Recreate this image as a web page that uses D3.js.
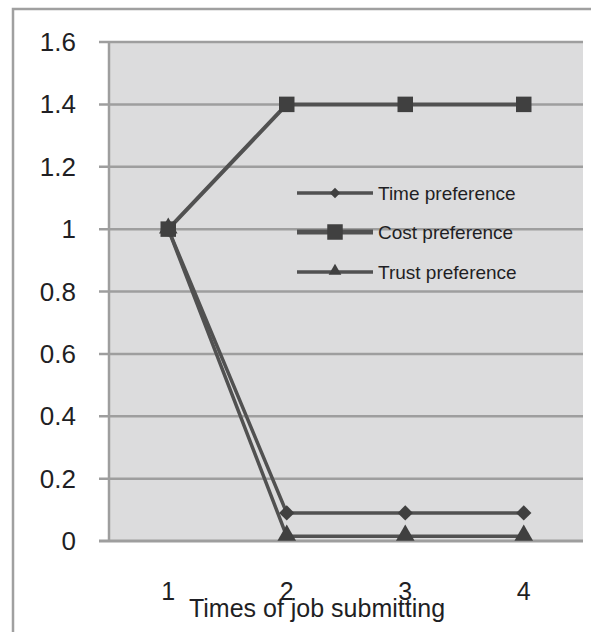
<!DOCTYPE html>
<html>
<head>
<meta charset="utf-8">
<script src="https://cdn.jsdelivr.net/npm/d3@7"></script>
<style>
  html, body { margin: 0; padding: 0; background: #fff; }
  svg { display: block; }
  text { font-family: "Liberation Sans", Arial, sans-serif; fill: #1f1f24; }
</style>
</head>
<body>
<svg id="chart" width="591" height="632"></svg>
<script>
// Submission rounds and the weight assigned to each preference
const rounds = ["1", "2", "3", "4"];
const timePref = [1, 0.09, 0.09, 0.09];
const costPref = [1, 1.4, 1.4, 1.4];
const trustPref = [1, 0.015, 0.015, 0.015];
const yTicks = [0, 0.2, 0.4, 0.6, 0.8, 1, 1.2, 1.4, 1.6];
const seriesNames = ["Time preference", "Cost preference", "Trust preference"];
const xTitle = "Times of job submitting";

const series = [
  { name: seriesNames[0], values: timePref, marker: "diamond", width: 3.5 },
  { name: seriesNames[1], values: costPref, marker: "square", width: 4 },
  { name: seriesNames[2], values: trustPref, marker: "triangle", width: 3.5 }
];

const svg = d3.select("#chart");
const plot = { left: 109, right: 583, top: 42, bottom: 541 };

const x = d3.scaleBand().domain(rounds).range([plot.left, plot.right]);
const y = d3.scaleLinear().domain([0, 1.6]).range([plot.bottom, plot.top]);
const cx = d => x(d) + x.bandwidth() / 2;

// outer frame
svg.append("path")
  .attr("d", "M13,640 L13,9 L600,9")
  .attr("fill", "none").attr("stroke", "#a0a0a0").attr("stroke-width", 2.5);

// plot background
svg.append("rect")
  .attr("x", plot.left).attr("y", plot.top)
  .attr("width", plot.right - plot.left).attr("height", plot.bottom - plot.top)
  .attr("fill", "#dcdcdd");

// horizontal gridlines
svg.append("g").selectAll("line").data(yTicks).join("line")
  .attr("x1", plot.left - 10).attr("x2", plot.right)
  .attr("y1", d => y(d)).attr("y2", d => y(d))
  .attr("stroke", "#9e9e9e").attr("stroke-width", d => d === 0 ? 3 : 2.5);

// vertical axis line
svg.append("line")
  .attr("x1", plot.left).attr("x2", plot.left)
  .attr("y1", plot.top).attr("y2", plot.bottom)
  .attr("stroke", "#9e9e9e").attr("stroke-width", 2.5);

// y tick labels
svg.append("g").selectAll("text").data(yTicks).join("text")
  .attr("x", 76).attr("y", d => y(d)).attr("dy", "0.35em")
  .attr("text-anchor", "end").attr("font-size", 26)
  .text(d => d3.format("")(d));

// x tick labels
svg.append("g").selectAll("text").data(rounds).join("text")
  .attr("x", d => cx(d)).attr("y", 600)
  .attr("text-anchor", "middle").attr("font-size", 25)
  .text(d => d);

// x axis title
svg.append("text")
  .attr("x", 317).attr("y", 617)
  .attr("text-anchor", "middle").attr("font-size", 25)
  .text(xTitle);

const markerPath = {
  diamond: d3.symbol().type(d3.symbolDiamond2).size(150),
  square: d3.symbol().type(d3.symbolSquare).size(240),
  triangle: d3.symbol().type(d3.symbolTriangle).size(150)
};

const line = d3.line().x((v, i) => cx(rounds[i])).y(v => y(v));

// series lines
series.forEach(s => {
  svg.append("path")
    .attr("d", line(s.values))
    .attr("fill", "none").attr("stroke", "#515151")
    .attr("stroke-width", s.width).attr("stroke-linejoin", "round");
});

// series markers
series.forEach(s => {
  svg.append("g").selectAll("path").data(s.values).join("path")
    .attr("d", markerPath[s.marker])
    .attr("transform", (v, i) => `translate(${cx(rounds[i])},${y(v) + (s.marker === "triangle" ? -1 : 0)})`)
    .attr("fill", "#404040");
});

// legend
const legendRows = [193, 232, 272];
const lg = svg.append("g");
series.forEach((s, i) => {
  const ly = legendRows[i];
  lg.append("line")
    .attr("x1", 297).attr("x2", 373).attr("y1", ly).attr("y2", ly)
    .attr("stroke", "#515151").attr("stroke-width", s.marker === "square" ? 5 : 3.5);
  lg.append("path")
    .attr("d", s.marker === "square" ? markerPath.square : d3.symbol().type(s.marker === "diamond" ? d3.symbolDiamond2 : d3.symbolTriangle).size(70)())
    .attr("transform", `translate(335,${ly + (s.marker === "triangle" ? -1 : 0)})`)
    .attr("fill", "#404040");
  lg.append("text")
    .attr("x", 378).attr("y", ly).attr("dy", "0.35em")
    .attr("font-size", 19)
    .text(s.name);
});
</script>
</body>
</html>
